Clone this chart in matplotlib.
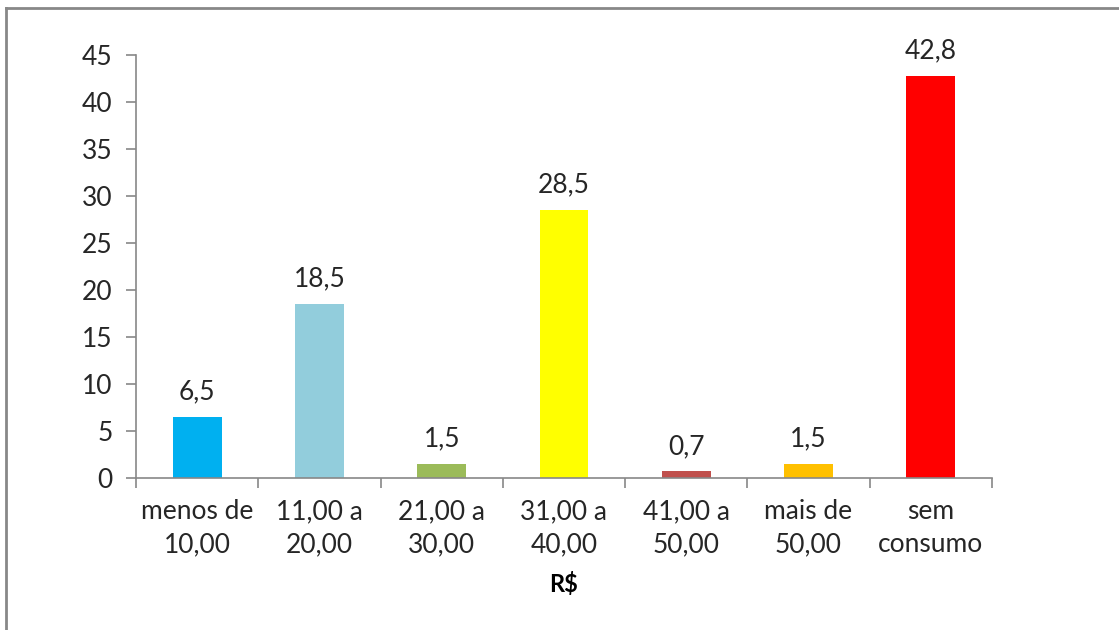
import numpy as np
import matplotlib
matplotlib.use('Agg')
import matplotlib.pyplot as plt
from matplotlib.lines import Line2D

plt.rcParams['font.family'] = ['Lato', 'DejaVu Sans']

# gasto mensal por faixa (R$) e percentual
faixas = ['menos de\n10,00', '11,00 a\n20,00', '21,00 a\n30,00', '31,00 a\n40,00',
          '41,00 a\n50,00', 'mais de\n50,00', 'sem\nconsumo']
valores = [6.5, 18.5, 1.5, 28.5, 0.7, 1.5, 42.8]
cores = ['#00B0F0', '#92CDDC', '#9BBB59', '#FFFF00', '#C0504D', '#FFC000', '#FF0000']

fig = plt.figure(figsize=(11.19, 6.3), dpi=100)
ax = fig.add_axes([0.1215, 0.2413, 0.765, 0.6714])

x = np.arange(len(faixas))
bars = ax.bar(x, valores, width=0.4, color=cores, zorder=1)

for b, v in zip(bars, valores):
    ax.annotate(('%.1f' % v).replace('.', ','), (b.get_x() + b.get_width() / 2, v),
                xytext=(0, 9), textcoords='offset points', ha='center', va='bottom',
                fontsize=19, color='#262626')

ax.set_xlim(-0.5, len(faixas) - 0.5)
ax.set_ylim(0, 45)
ax.set_yticks(np.arange(0, 46, 5))
ax.set_xticks(x)
ax.set_xticklabels(faixas, fontsize=19, color='#262626', linespacing=1.4)
ax.set_xticks(np.arange(-0.5, len(faixas), 1), minor=True)
ax.tick_params(axis='x', which='major', length=0, pad=15)
ax.tick_params(axis='x', which='minor', length=7, color='#888888', width=1.2)
ax.tick_params(axis='y', length=7, color='#888888', width=1.2, labelsize=19,
               labelcolor='#262626', pad=10)

for s in ['top', 'right']:
    ax.spines[s].set_visible(False)
for s in ['left', 'bottom']:
    ax.spines[s].set_color('#888888')
    ax.spines[s].set_linewidth(1.2)
ax.spines['bottom'].set_zorder(3)

ax.set_xlabel('R$', fontsize=17, fontweight='bold', labelpad=11)

# moldura do gráfico
fig.add_artist(Line2D([0.0054, 1.0], [0.987, 0.987], color='#888888', lw=2))
fig.add_artist(Line2D([0.0054, 0.0054], [0.0, 0.987], color='#888888', lw=2))

fig.savefig('out.png', dpi=100)
